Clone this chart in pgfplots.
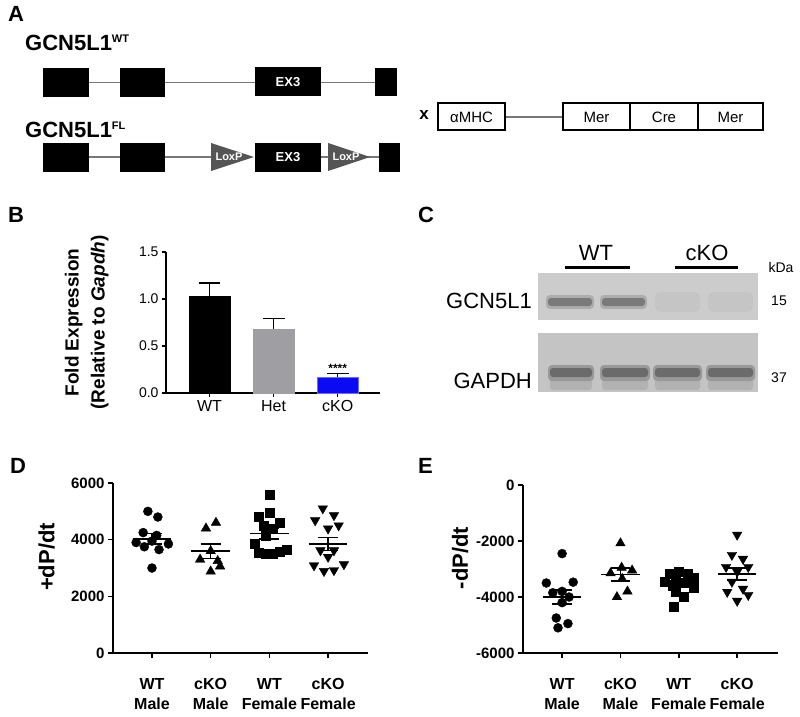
\documentclass[border=0pt]{standalone}
\usepackage{fontspec}
\setmainfont{Liberation Sans}
\usepackage{pgfplots}
\pgfplotsset{compat=1.18}
\definecolor{hetgray}{RGB}{158,158,163}
\definecolor{kobar}{RGB}{10,10,245}
\definecolor{intron}{RGB}{120,120,120}
\definecolor{loxp}{RGB}{85,85,85}
\newcommand\fs[2]{\fontsize{#1}{#2}\selectfont}

\pgfplotsset{
  prism/.style={
    scale only axis, axis lines=left, axis line style={-, line width=1.6pt},
    tick align=outside, major tick length=5pt,
    tick style={black, line width=1.6pt},
    xtick={0,1,2,3},
    xticklabels={{WT\\Male},{cKO\\Male},{WT\\Female},{cKO\\Female}},
    xticklabel style={align=center, font=\fs{16}{20}\bfseries, yshift=-17pt},
    yticklabel style={font=\fs{15}{15}\bfseries},
    /pgf/number format/assume math mode=true,
    /pgf/number format/1000 sep={},
    scaled y ticks=false, clip=false,
  },
  sem/.style={black, line width=1.6pt, unbounded coords=jump, mark=none},
}

\begin{document}
\begin{tikzpicture}
\path[use as bounding box, fill=white] (0pt,0pt) rectangle (800pt,-717pt);

\begin{scope}[x=1pt,y=-1pt]
% panel letters
\foreach \l/\px/\py in {A/8/22, B/8/222, C/418/222, D/10/473, E/418/473}
  \node[anchor=base west, inner sep=0pt, font=\fs{22}{22}\bfseries] at (\px,\py) {\l};

% ---- A: gene constructs
\node[anchor=base west, inner sep=0pt, font=\fs{22}{22}\bfseries] at (25,51)
  {GCN5L1\raisebox{8pt}{\fs{11}{11}WT}};
\node[anchor=base west, inner sep=0pt, font=\fs{22}{22}\bfseries] at (25,137)
  {GCN5L1\raisebox{8pt}{\fs{11}{11}FL}};

\draw[intron, line width=1.2pt] (89,82.5)--(120,82.5) (165,82.5)--(255,82.5) (321,82.5)--(375,82.5);
\fill (43,68) rectangle (89,97);
\fill (120,68) rectangle (165,97);
\fill (255,67) rectangle (321,96);
\fill (375,68) rectangle (397,96);
\node[white, font=\fs{13}{13}\bfseries] at (288,82) {EX3};

\draw[intron, line width=1.2pt] (89,157)--(120,157) (165,157)--(211,157) (321,157)--(328,157) (368,157)--(379,157);
\fill (43,143) rectangle (89,172);
\fill (120,143) rectangle (165,172);
\fill (255,143) rectangle (321,172);
\fill (379,143) rectangle (400,172);
\fill[loxp] (211,143)--(254,157)--(211,171)--cycle;
\fill[loxp] (328,143)--(370,157)--(328,171)--cycle;
\node[white, font=\fs{13}{13}\bfseries] at (288,157) {EX3};
\node[white, font=\fs{11}{11}\bfseries] at (229,157) {LoxP};
\node[white, font=\fs{11}{11}\bfseries] at (346,157) {LoxP};

\node[font=\fs{17}{17}\bfseries] at (424,115) {x};
\draw[intron, line width=1.2pt] (505,117)--(563,117);
\draw[line width=1.4pt] (438,103) rectangle (505,130);
\draw[line width=1.4pt] (563,103) rectangle (763,130) (630,103)--(630,130) (698,103)--(698,130);
\node[font=\fs{15}{15}] at (471.5,117) {αMHC};
\node[font=\fs{15}{15}] at (596.5,117) {Mer};
\node[font=\fs{15}{15}] at (664,117) {Cre};
\node[font=\fs{15}{15}] at (730.5,117) {Mer};

% ---- C: western blot
\node[anchor=base, inner sep=0pt, font=\fs{22}{22}] at (596,260) {WT};
\node[anchor=base, inner sep=0pt, font=\fs{22}{22}] at (707,260) {cKO};
\draw[line width=3pt] (565,267)--(630,267) (675,267)--(738,267);
\node[anchor=base, inner sep=0pt, font=\fs{14}{14}] at (781,272) {kDa};
\node[anchor=base east, inner sep=0pt, font=\fs{22}{22}] at (532,308) {GCN5L1};
\node[anchor=base east, inner sep=0pt, font=\fs{22}{22}] at (532,388) {GAPDH};
\node[anchor=base, inner sep=0pt, font=\fs{14}{14}] at (779,305) {15};
\node[anchor=base, inner sep=0pt, font=\fs{14}{14}] at (779,382) {37};

\fill[black!20] (538,273) rectangle (758,320);
\fill[black!23] (538,333) rectangle (758,392);
\foreach \a/\b in {548/592, 602/645} {
  \fill[black!32, rounded corners=4pt] (\a-2,295) rectangle (\b+2,309);
  \fill[black!52, rounded corners=3pt] (\a,298) rectangle (\b,306);
}
\foreach \a/\b in {655/700, 708/753}
  \fill[black!28, rounded corners=5pt, opacity=0.35] (\a,292) rectangle (\b,312);
\foreach \a/\b in {550/592, 602/648, 655/700, 708/753} {
  \fill[black!30, rounded corners=3pt] (\a,376) rectangle (\b,390);
  \fill[black!40, rounded corners=4pt] (\a-2,365) rectangle (\b+2,381);
  \fill[black!58, rounded corners=3pt] (\a,368) rectangle (\b,377);
}
\end{scope}

% ---- B: qPCR bars
\begin{axis}[
  at={(166pt,-393pt)}, anchor=south west, scale only axis,
  width=214pt, height=141pt,
  xmin=-0.68, xmax=2.66, ymin=0, ymax=1.5,
  axis lines=left, axis line style={-, line width=1.1pt},
  tick align=outside, major tick length=4pt, tick style={black, line width=1.1pt},
  xtick={0,1,2}, xticklabels={WT,Het,cKO},
  ytick={0,0.5,1,1.5},
  yticklabel style={/pgf/number format/fixed, /pgf/number format/fixed zerofill,
    /pgf/number format/precision=1, font=\fs{14}{14}},
  xticklabel style={font=\fs{16}{16}},
  /pgf/number format/assume math mode=true,
  ylabel={Fold Expression\\(Relative to \textit{Gapdh})},
  every axis y label/.style={at={(axis description cs:-0.37,0.5)}, rotate=90,
    anchor=center, align=center, font=\fs{19}{26}\bfseries},
  clip=false,
]
\addplot[ybar, bar width=0.64, fill=black, draw=black] coordinates {(0,1.03)};
\addplot[ybar, bar width=0.64, fill=hetgray, draw=hetgray] coordinates {(1,0.68)};
\addplot[ybar, bar width=0.64, fill=kobar, draw=kobar!60!white] coordinates {(2,0.17)};
\addplot[black, line width=1.2pt, unbounded coords=jump, mark=none] coordinates {
  (0,1.03) (0,1.17) (nan,nan) (-0.17,1.17) (0.17,1.17) (nan,nan)
  (1,0.68) (1,0.79) (nan,nan) (0.83,0.79) (1.17,0.79) (nan,nan)
  (2,0.17) (2,0.21) (nan,nan) (1.83,0.21) (2.17,0.21)};
\node[anchor=base, font=\fs{12}{12}\bfseries] at (axis cs:2,0.215) {****};
\end{axis}

% ---- D: +dP/dt
\begin{axis}[prism,
  at={(113pt,-653pt)}, anchor=south west, width=255pt, height=170pt,
  xmin=-0.664, xmax=3.68, ymin=0, ymax=6000,
  ytick={0,2000,4000,6000},
  ylabel={+dP/dt},
  every axis y label/.style={at={(axis description cs:-0.26,0.565)}, rotate=90,
    anchor=center, font=\fs{22}{22}\bfseries},
]
\addplot[only marks, mark=*, mark size=4.5pt, black] coordinates {
  (-0.07,5000) (0.10,4800) (-0.15,4250) (0.08,4150) (0.0,3950)
  (-0.27,3900) (0.28,3850) (-0.13,3750) (0.12,3650) (0.0,3000)};
\addplot[only marks, mark=triangle*, mark size=5.5pt, black] coordinates {
  (1.09,4600) (0.92,4400) (1.0,3600) (0.82,3300) (1.12,3250) (1.16,3060) (1.0,2880)};
\addplot[only marks, mark=square*, mark size=4.5pt, black] coordinates {
  (2.0,5600) (2.0,4950) (1.81,4800) (2.17,4600) (1.9,4500) (2.05,4400)
  (1.93,4150) (1.75,3850) (2.3,3650) (1.82,3550) (1.94,3500) (2.06,3500) (2.18,3580)};
\addplot[only marks, mark=triangle*, mark size=5.5pt, black, mark options={rotate=180}] coordinates {
  (2.91,5100) (3.1,4860) (2.78,4680) (3.18,4500) (3.0,4390) (2.87,3620)
  (3.1,3620) (3.0,3390) (3.27,3130) (2.76,3090) (3.1,2920) (2.93,2890)};
\addplot[sem] coordinates {
  (-0.33,4030) (0.33,4030) (nan,nan) (0,3849) (0,4211) (nan,nan)
  (-0.17,4211) (0.17,4211) (nan,nan) (-0.17,3849) (0.17,3849) (nan,nan)
  (0.67,3590) (1.33,3590) (nan,nan) (1,3342) (1,3838) (nan,nan)
  (0.83,3838) (1.17,3838) (nan,nan) (0.83,3342) (1.17,3342) (nan,nan)
  (1.67,4212) (2.33,4212) (nan,nan) (2,4029) (2,4395) (nan,nan)
  (1.83,4395) (2.17,4395) (nan,nan) (1.83,4029) (2.17,4029) (nan,nan)
  (2.67,3850) (3.33,3850) (nan,nan) (3,3617) (3,4083) (nan,nan)
  (2.83,4083) (3.17,4083) (nan,nan) (2.83,3617) (3.17,3617)};
\end{axis}

% ---- E: -dP/dt
\begin{axis}[prism,
  at={(523pt,-653pt)}, anchor=south west, width=255pt, height=168pt,
  xmin=-0.67, xmax=3.70, ymin=-6000, ymax=0,
  ytick={-6000,-4000,-2000,0},
  ylabel={-dP/dt},
  every axis y label/.style={at={(axis description cs:-0.247,0.565)}, rotate=90,
    anchor=center, font=\fs{22}{22}\bfseries},
]
\addplot[only marks, mark=*, mark size=4.5pt, black] coordinates {
  (0.0,-2450) (0.19,-3470) (-0.27,-3500) (0.0,-3800) (-0.16,-3850)
  (0.12,-4000) (0.0,-4200) (-0.1,-4750) (0.1,-4950) (-0.07,-5100)};
\addplot[only marks, mark=triangle*, mark size=5.5pt, black] coordinates {
  (1.0,-2080) (1.02,-2950) (1.2,-3050) (0.83,-3150) (1.03,-3350) (1.12,-3800) (0.94,-4000)};
\addplot[only marks, mark=square*, mark size=4.5pt, black] coordinates {
  (2.0,-3100) (1.85,-3150) (2.15,-3150) (1.95,-3250) (2.25,-3300) (1.75,-3450)
  (2.1,-3500) (1.9,-3600) (2.25,-3650) (1.95,-3800) (2.08,-4000) (1.92,-4350)};
\addplot[only marks, mark=triangle*, mark size=5.5pt, black, mark options={rotate=180}] coordinates {
  (3.0,-1780) (2.91,-2500) (3.1,-2640) (2.81,-2930) (3.19,-2930) (3.0,-3100)
  (2.91,-3460) (3.1,-3710) (2.83,-3820) (3.19,-3930) (3.0,-4140)};
\addplot[sem] coordinates {
  (-0.33,-4007) (0.33,-4007) (nan,nan) (0,-4259) (0,-3755) (nan,nan)
  (-0.17,-3755) (0.17,-3755) (nan,nan) (-0.17,-4259) (0.17,-4259) (nan,nan)
  (0.67,-3197) (1.33,-3197) (nan,nan) (1,-3434) (1,-2960) (nan,nan)
  (0.83,-2960) (1.17,-2960) (nan,nan) (0.83,-3434) (1.17,-3434) (nan,nan)
  (1.67,-3525) (2.33,-3525) (nan,nan) (2,-3635) (2,-3415) (nan,nan)
  (1.83,-3415) (2.17,-3415) (nan,nan) (1.83,-3635) (2.17,-3635) (nan,nan)
  (2.67,-3176) (3.33,-3176) (nan,nan) (3,-3392) (3,-2960) (nan,nan)
  (2.83,-2960) (3.17,-2960) (nan,nan) (2.83,-3392) (3.17,-3392)};
\end{axis}
\end{tikzpicture}
\end{document}
